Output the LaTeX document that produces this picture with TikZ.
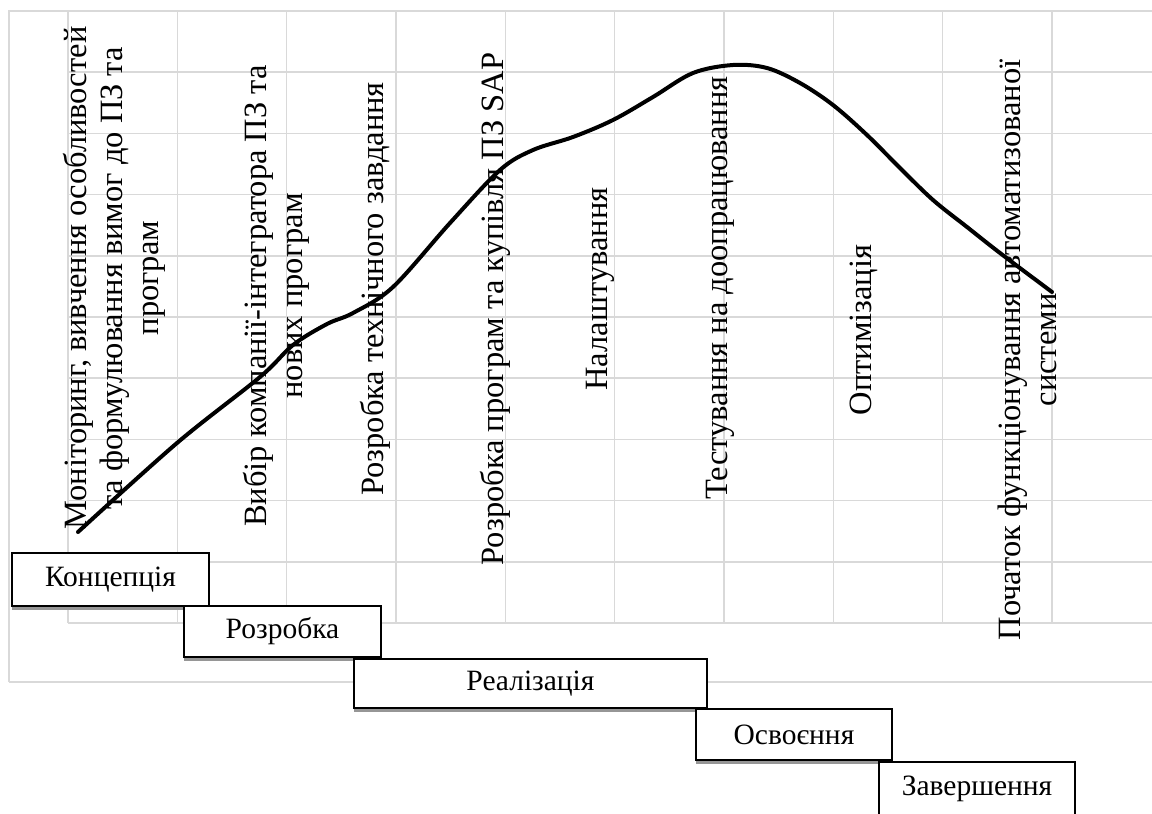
\documentclass[tikz,border=0pt]{standalone}
\usepackage{fontspec}
\setmainfont{Liberation Serif}
\usetikzlibrary{shadows}
\definecolor{gridgray}{RGB}{217,217,217}
\definecolor{shadowgray}{RGB}{150,150,150}
\tikzset{
  gridline/.style={draw=gridgray, line width=1.6pt},
  lbl/.style={rotate=90, align=center, inner sep=0pt, font=\fontsize{32.5}{36}\selectfont},
  phase/.style={draw=black, line width=1.6pt, fill=white, inner sep=0pt,
    font=\fontsize{29.5}{34}\selectfont,
    drop shadow={shadow xshift=-0.5pt, shadow yshift=-3.5pt, fill=shadowgray, opacity=1}},
  lifecurve/.style={draw=black, line width=4pt, line cap=round, line join=round}
}
\begin{document}
\begin{tikzpicture}[x=1pt,y=-1pt]
\useasboundingbox (0,0) rectangle (1152,814);
\clip (0,0) rectangle (1152,814);
% grid
\draw[gridline] (9,682) -- (9,11) -- (1160,11);
\draw[gridline] (9,682) -- (1160,682);
\foreach \i in {0,...,9} \draw[gridline] ({68+109.33*\i},11) -- ({68+109.33*\i},623);
\foreach \j in {1,...,10} \draw[gridline] (68,{11+61.2*\j}) -- (1160,{11+61.2*\j});
% labels
\node[lbl] (l1) at (114,278) {Моніторинг, вивчення особливостей\\та формулювання вимог до ПЗ та\\програм};
\node[lbl] (l2) at (276,296) {Вибір компанії-інтегратора ПЗ та\\нових програм};
\node[lbl] (l3) at (375,289) {Розробка технічного завдання};
\node[lbl] (l4) at (495,309) {Розробка програм та купівля ПЗ SAP};
\node[lbl] (l5) at (600,289) {Налаштування};
\node[lbl] (l6) at (720,288) {Тестування на доопрацювання};
\node[lbl] (l7) at (864,330) {Оптимізація};
\node[lbl] (l8) at (1027,350) {Початок функціонування автоматизованої\\системи};
% curve
\draw[lifecurve] plot[smooth, tension=0.55] coordinates {
 (78,532) (177,443) (260,377) (293,345) (327,324) (353,313) (393,287)
 (450,223) (500,170) (533,150) (573,137) (613,120) (653,97) (693,73)
 (733,65) (767,68) (800,83) (833,105) (867,135) (900,168) (933,200)
 (967,227) (1000,253) (1052,292)};
% phases
\node[phase, minimum width=197pt, minimum height=53pt] (b1) at (110.5,579.5) {Концепція};
\node[phase, minimum width=197pt, minimum height=51pt] (b2) at (282.5,631.5) {Розробка};
\node[phase, minimum width=353pt, minimum height=49pt] (b3) at (530.5,683.5) {Реалізація};
\node[phase, minimum width=196pt, minimum height=51pt] (b4) at (794,734.5) {Освоєння};
\node[phase, minimum width=196pt, minimum height=54pt] (b5) at (977,789) {Завершення};
\end{tikzpicture}
\end{document}
